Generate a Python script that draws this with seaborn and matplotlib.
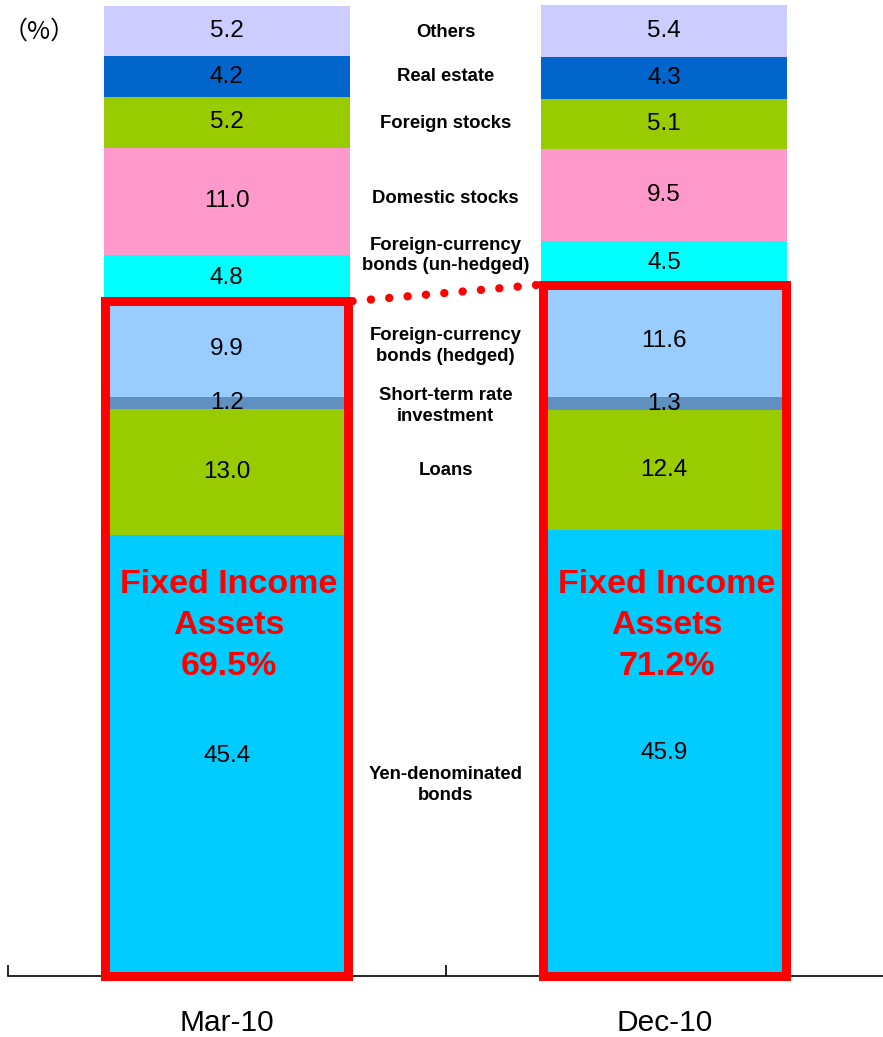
import matplotlib
matplotlib.use("Agg")
import matplotlib.pyplot as plt
from matplotlib.patches import Rectangle
import numpy as np
import seaborn as sns

# ---- data ----
periods = ["Mar-10", "Dec-10"]
categories = ["Yen-denominated\nbonds", "Loans", "Short-term rate\ninvestment",
              "Foreign-currency\nbonds (hedged)", "Foreign-currency\nbonds (un-hedged)",
              "Domestic stocks", "Foreign stocks", "Real estate", "Others"]
mar10 = [45.4, 13.0, 1.2, 9.9, 4.8, 11.0, 5.2, 4.2, 5.2]
dec10 = [45.9, 12.4, 1.3, 11.6, 4.5, 9.5, 5.1, 4.3, 5.4]
fixed_income_count = 4  # first four segments form fixed income assets
fixed_income_pct = ["69.5%", "71.2%"]

# ---- style / layout ----
colors = ["#00CCFF", "#99CC00", "#6090C0", "#99CCFF", "#00FFFF",
          "#FF99CC", "#99CC00", "#0066CC", "#CCCCFF"]
label_y = [19.7, 52.1, 58.7, 64.9, 74.2, 80.1, 87.8, 92.6, 97.2]
fi_text_y = 36.1
bar_w = 0.562
red_w = 0.555

sns.set_theme(style="white")
plt.rcParams["font.family"] = ["Liberation Sans", "DejaVu Sans"]
plt.rcParams["text.color"] = "black"
plt.rcParams["xtick.color"] = "black"

fig = plt.figure(figsize=(8.83, 10.37), dpi=100)
ax = fig.add_axes([8 / 883, 61 / 1037, 875 / 883, 971 / 1037])

vals = np.array([mar10, dec10])  # shape (2, n)
cum = np.cumsum(vals, axis=1)
bottoms = cum - vals

# draw stacked bars: tallest cumulative first, lower layers drawn over
for k in range(len(categories) - 1, -1, -1):
    sns.barplot(x=periods, y=cum[:, k], color=colors[k], width=bar_w,
                saturation=1, linewidth=0, ax=ax)

# value labels
for i in range(len(periods)):
    for k in range(len(categories)):
        ax.text(i, bottoms[i, k] + vals[i, k] / 2, f"{vals[i, k]:.1f}",
                ha="center", va="center", fontsize=17.5, color="black")

# category labels in the middle
for k, name in enumerate(categories):
    ax.text(0.5, label_y[k], name, ha="center", va="center", fontsize=13.3,
            fontweight="bold", color="black", linespacing=1.3)

# fixed income boxes
fi_tot = cum[:, fixed_income_count - 1]
for i in range(len(periods)):
    ax.add_patch(Rectangle((i - red_w / 2, 0), red_w, fi_tot[i], fill=False,
                           ec="#FF0000", lw=6.5, joinstyle="miter",
                           clip_on=False, zorder=5))
    ax.text(i + 0.005, fi_text_y, "Fixed Income\nAssets\n" + fixed_income_pct[i],
            ha="center", va="center", fontsize=24.5, fontweight="bold",
            color="#FF0000", linespacing=1.4, zorder=6)

# dotted connector
ax.plot([red_w / 2 + 0.01, 1 - red_w / 2 - 0.005], [fi_tot[0], fi_tot[1]],
        color="#FF0000", lw=6, linestyle=(0, (0.01, 2.2)),
        dash_capstyle="round", clip_on=False, zorder=6)

# axes styling
ax.set_xlim(-0.5, 1.5)
ax.set_ylim(0, 100)
for s in ["left", "right", "top"]:
    ax.spines[s].set_visible(False)
ax.spines["bottom"].set_color("black")
ax.spines["bottom"].set_linewidth(1.2)
ax.set_yticks([])
ax.set_xticks([0, 1])
ax.set_xticklabels(periods, fontsize=21.5, color="black")
ax.set_xticks([-0.5, 0.5], minor=True)
ax.tick_params(axis="x", which="major", length=0, pad=24)
ax.tick_params(axis="x", which="minor", direction="in", length=8,
               width=1.2, color="black", bottom=True)
ax.set_xlabel("")
ax.set_ylabel("")

fig.text(39 / 883, 1 - 32 / 1037, "（%）", ha="center", va="center",
         fontsize=18, color="black",
         family=["Noto Sans CJK JP", "DejaVu Sans"])

fig.savefig("out.png", dpi=100)
